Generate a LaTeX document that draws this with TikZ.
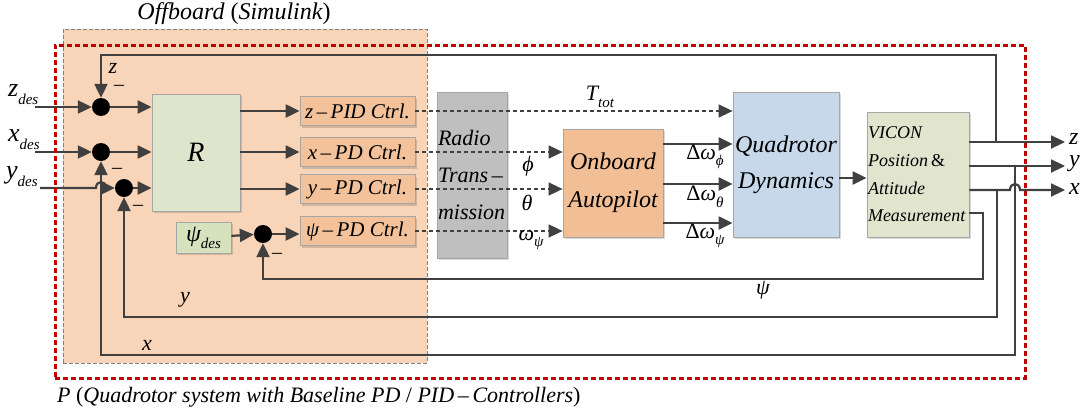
\documentclass[tikz,border=0pt]{standalone}
\usepackage{fontspec}
\setmainfont{Liberation Serif}
\usetikzlibrary{arrows.meta,calc,shadows}
\definecolor{lnc}{HTML}{404040}
\definecolor{offfill}{HTML}{F8D5B9}
\definecolor{ctrlfill}{HTML}{F3C29B}
\definecolor{onbfill}{HTML}{F2BE95}
\definecolor{rfill}{HTML}{DFE5CD}
\definecolor{psifill}{HTML}{D6E2BE}
\definecolor{radfill}{HTML}{BFBFBF}
\definecolor{quadfill}{HTML}{C6D8E9}
\definecolor{vicfill}{HTML}{E1E5CE}
\definecolor{redc}{HTML}{C00000}
\newcommand\fs[1]{\fontsize{#1}{#1}\selectfont}
\newcommand\withsub[2]{#1\raisebox{-0.3em}{\fontsize{15}{15}\selectfont #2}}
\newcommand\up[1]{{\upshape #1}}
\begin{document}
\begin{tikzpicture}[x=1pt,y=-1pt,
  font=\itshape,
  box/.style={draw=gray!70, line width=0.8pt, inner sep=0pt,
    drop shadow={shadow xshift=2pt,shadow yshift=-2pt,fill=black,opacity=0.15}},
  ctrl/.style={box, fill=ctrlfill, minimum width=115pt, minimum height=29pt, font=\itshape\fs{21}},
  junc/.style={circle, fill=black, minimum size=18pt, inner sep=0pt},
  arr/.style={draw=lnc, line width=2.2pt, -{Triangle[length=14pt,width=13pt]}},
  darr/.style={draw=lnc, line width=1.6pt, dash pattern=on 4pt off 3pt, -{Triangle[length=14pt,width=13pt]}},
  lab/.style={inner sep=0pt, font=\itshape\fs{22}},
  minus/.style={inner sep=0pt, font=\upshape\fs{20}},
]
\useasboundingbox (0,0) rectangle (1086,415);
% offboard area
\node[fill=offfill, draw=gray, dash pattern=on 4pt off 2pt, line width=0.7pt,
  minimum width=364pt, minimum height=334pt, inner sep=0pt] (off) at (245,196) {};
\node[lab, font=\itshape\fs{24}] (offl) at (234,14) {Offboard \up{(}Simulink\up{)}};
\node[lab, anchor=west] (pl) at (57,397) {P \up{(}Quadrotor system with Baseline PD \up{/} PID\,\up{–}\,Controllers\up{)}};

% blocks
\node[box, fill=rfill, minimum width=88pt, minimum height=117pt, font=\itshape\fs{28}] (R) at (196,152.5) {R};
\node[ctrl] (cz) at (357.5,111) {z\,\up{–}\,PID Ctrl.};
\node[ctrl] (cx) at (357.5,152) {x\,\up{–}\,PD Ctrl.};
\node[ctrl] (cy) at (357.5,189) {y\,\up{–}\,PD Ctrl.};
\node[ctrl] (cp) at (357.5,231) {ψ\,\up{–}\,PD Ctrl.};
\node[box, fill=psifill, minimum width=55pt, minimum height=31pt, font=\itshape\fs{24}] (pd) at (203.5,237.5) {\withsub{ψ}{des}};
\node[junc] (zj) at (101,107) {};
\node[junc] (xj) at (101,152) {};
\node[junc] (yj) at (124,188) {};
\node[junc] (pj) at (263,234) {};
\node[box, fill=radfill, minimum width=70pt, minimum height=166pt, text width=68pt, inner xsep=1pt,
  align=left, font=\itshape\fontsize{22}{37}\selectfont] (rad) at (472,175) {Radio\\Trans\,\up{–}\\mission};
\node[box, fill=onbfill, minimum width=100pt, minimum height=108pt, align=center,
  font=\itshape\fontsize{24}{38}\selectfont] (onb) at (613,183) {Onboard\\Autopilot};
\node[box, fill=quadfill, minimum width=106pt, minimum height=145pt, align=center,
  font=\itshape\fontsize{24}{36}\selectfont] (quad) at (786,164.5) {Quadrotor\\Dynamics};
\node[box, fill=vicfill, minimum width=102pt, minimum height=125pt, text width=100pt, inner xsep=1pt,
  align=left, font=\itshape\fontsize{18}{27.7}\selectfont] (vic) at (918,174.5) {VICON\\Position\,\up{\&}\\Attitude\\Measurement};

% inputs
\node[lab, anchor=west, font=\itshape\fs{26}] (zdl) at (8,95) {\withsub{z}{des}};
\node[lab, anchor=west, font=\itshape\fs{26}] (xdl) at (8,140) {\withsub{x}{des}};
\node[lab, anchor=west, font=\itshape\fs{26}] (ydl) at (6,177) {\withsub{y}{des}};
\coordinate (zin) at (35,107);
\coordinate (xin) at (35,152);
\coordinate (yin) at (40,188);
\draw[arr] (zin) -- (zj);
\draw[arr] (xin) -- (xj);
\draw[arr] (yin) -- (96,188) .. controls (96,180) and (106,180) .. (106,188) -- (yj);

% to R and controllers
\draw[arr] (zj) -- (zj -| R.west);
\draw[arr] (xj) -- (xj -| R.west);
\draw[arr] (yj) -- (yj -| R.west);
\draw[arr] (R.east |- cz) -- (cz);
\draw[arr] (R.east |- cx) -- (cx);
\draw[arr] (R.east |- cy) -- (cy);
\draw[arr] (pd) -- (pj);
\draw[arr] (pj) -- (pj -| cp.west);

% dashed radio links
\draw[darr] (cz.east) -- (cz.east -| quad.west);
\draw[darr] (cx.east) -- (cx.east -| onb.west);
\draw[darr] (cy.east) -- (cy.east -| onb.west);
\draw[darr] (cp.east) -- (cp.east -| onb.west);
\node[lab] (ttl) at (600,97) {\withsub{T}{tot}};
\node[lab] (phl) at (528,166) {ϕ};
\node[lab] (thl) at (527,203) {θ};
\node[lab] (oml) at (531,240) {\withsub{ω}{ψ}};

% autopilot to dynamics
\draw[arr] ($(onb.east)+(0,-39)$) -- ($(quad.west)+(0,-20.5)$);
\draw[arr] ($(onb.east)+(0,1)$) -- ($(quad.west)+(0,19.5)$);
\draw[arr] ($(onb.east)+(0,40)$) -- ($(quad.west)+(0,58.5)$);
\node[lab] (d1) at (705,157) {\up{Δ}\withsub{ω}{ϕ}};
\node[lab] (d2) at (705,197) {\up{Δ}\withsub{ω}{θ}};
\node[lab] (d3) at (705,236) {\up{Δ}\withsub{ω}{ψ}};
\draw[arr] ($(quad.east)+(0,13.5)$) -- ($(vic.west)+(0,3.5)$);

% outputs
\coordinate (zo) at (1065,142);
\coordinate (yo) at (1065,166);
\coordinate (xo) at (1065,190);
\draw[arr] ($(vic.east)+(0,-32.5)$) -- (zo);
\draw[arr] ($(vic.east)+(0,-8.5)$) -- (yo);
\draw[arr] ($(vic.east)+(0,15.5)$) -- (1010,190) .. controls (1010,182) and (1020,182) .. (1020,190) -- (xo);
\node[lab, anchor=west, font=\itshape\fs{24}] (zol) at (1069,139) {z};
\node[lab, anchor=west, font=\itshape\fs{24}] (yol) at (1069,164) {y};
\node[lab, anchor=west, font=\itshape\fs{24}] (xol) at (1069,189) {x};

% feedback
\coordinate (zbr) at (996,142);
\coordinate (xbr) at (997,190);
\coordinate (ybr) at (1015,166);
\draw[arr] (zbr) -- (996,55) -| (zj);
\draw[arr] ($(vic.east)+(0,38.5)$) -| (983,279) -| (pj);
\draw[arr] (xbr) -- (997,317) -| (yj);
\draw[arr] (ybr) -- (1015,355) -| (xj);
\node[lab] (zfl) at (113,68) {z};
\node[minus] (m1) at (119,88) {–};
\node[minus] (m2) at (117,171) {–};
\node[minus] (m3) at (138,208) {–};
\node[minus] (m4) at (277,256) {–};
\node[lab] (yfl) at (185,300) {y};
\node[lab] (xfl) at (147,345) {x};
\node[lab] (pfl) at (763,290) {ψ};

% system boundary
\node[draw=redc, line width=3pt, dash pattern=on 5pt off 3pt, minimum width=970pt,
  minimum height=333pt, inner sep=0pt] (pbox) at (540,211.5) {};
\end{tikzpicture}
\end{document}
